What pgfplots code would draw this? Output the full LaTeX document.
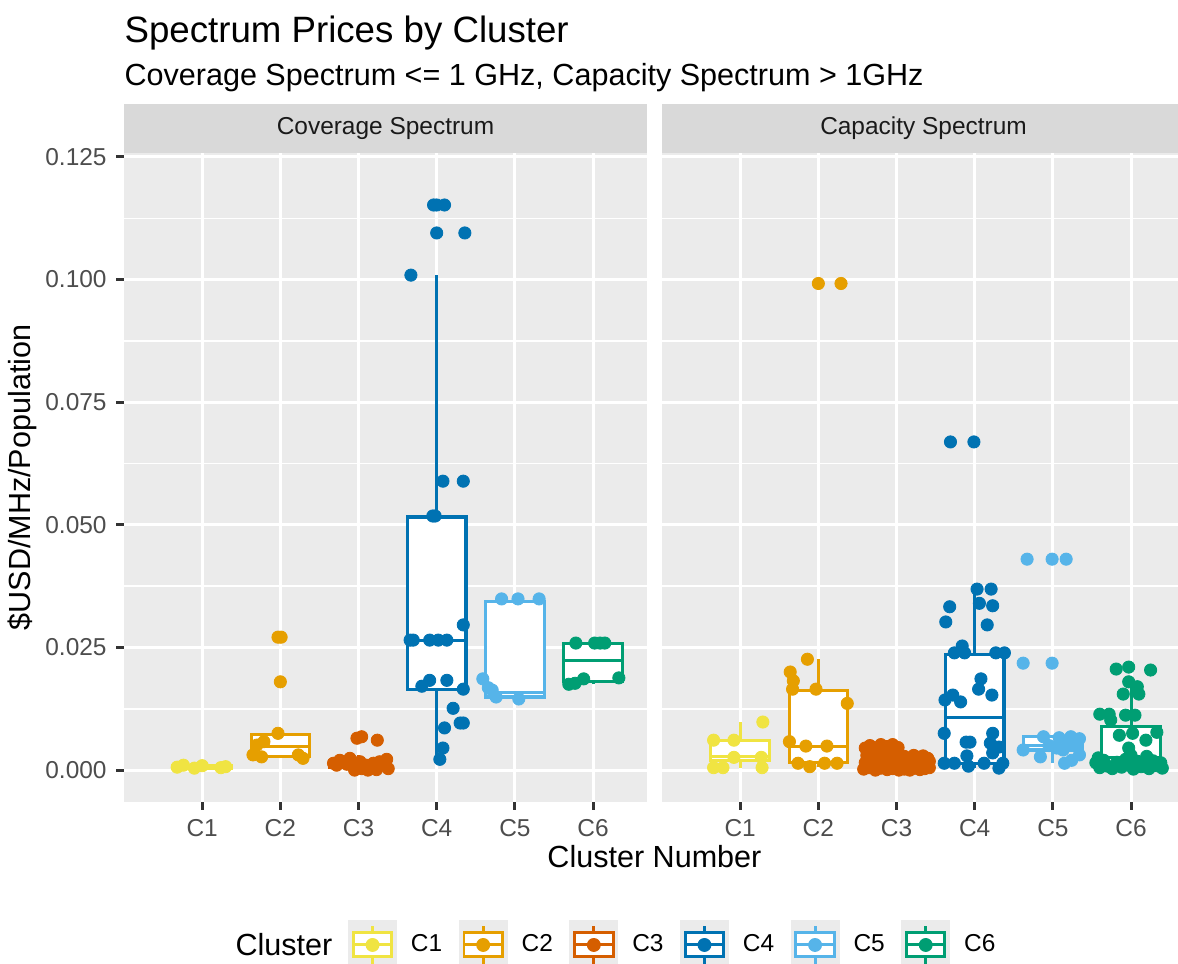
\documentclass[border=0pt]{standalone}
\usepackage{fontspec}
\setmainfont{Liberation Sans}
\usepackage{pgfplots}
\pgfplotsset{compat=1.18}

\definecolor{cA}{HTML}{F0E442}
\definecolor{cB}{HTML}{E69F00}
\definecolor{cC}{HTML}{D55E00}
\definecolor{cD}{HTML}{0072B2}
\definecolor{cE}{HTML}{56B4E9}
\definecolor{cF}{HTML}{009E73}
\definecolor{panelbg}{HTML}{EBEBEB}
\definecolor{stripbg}{HTML}{D9D9D9}
\definecolor{gtext}{HTML}{4D4D4D}
\definecolor{gtick}{HTML}{333333}
\definecolor{gstrip}{HTML}{1A1A1A}

\pgfplotsset{
  panel/.style={
    scale only axis, width=188.28pt, height=233.64pt,
    xmin=0, xmax=6.69, ymin=-0.0065, ymax=0.1258,
    axis background/.style={fill=panelbg},
    axis line style={draw=none},
    xtick={1,2,3,4,5,6}, xticklabels={C1,C2,C3,C4,C5,C6},
    ytick={0,0.025,0.05,0.075,0.1,0.125},
    minor ytick={0.0125,0.0375,0.0625,0.0875,0.1125},
    xmajorgrids, ymajorgrids, yminorgrids,
    major grid style={white, line width=1.07pt},
    minor grid style={white, line width=0.53pt},
    tick align=outside, major tick length=2.75pt, minor tick length=0pt,
    tick style={gtick, line width=1.07pt},
    xtick pos=bottom,
    scaled y ticks=false,
    tick label style={font=\fontsize{8.8}{10}\selectfont, text=gtext},
    yticklabel style={/pgf/number format/.cd, fixed, fixed zerofill, precision=3, assume math mode=true},
  },
  clkey/.style={legend image code/.code={
    \fill[panelbg] (0pt,-8.64pt) rectangle (17.28pt,8.64pt);
    \draw[#1, line width=1.07pt] (8.64pt,-6.9pt) -- (8.64pt,-4.32pt) (8.64pt,4.32pt) -- (8.64pt,6.9pt);
    \draw[#1, line width=1.07pt, fill=white] (1.73pt,-4.32pt) rectangle (15.55pt,4.32pt);
    \draw[#1, line width=1.07pt] (1.73pt,0pt) -- (15.55pt,0pt);
    \fill[#1] (8.64pt,0pt) circle (2.3pt);
  }},
  pts/.style={forget plot, only marks, mark=*, mark size=2.2pt, color=#1, mark options={line width=0.3pt}},
  bxl/.style={forget plot, draw=#1, line width=1.1pt, mark=none},
}

% #1 colour, #2 left, #3 centre, #4 right, #5 lower whisker, #6 Q1, #7 median, #8 Q3, #9 upper whisker
\newcommand{\bx}[9]{%
  \addplot[bxl=#1] coordinates {(#3,#5) (#3,#6)};
  \addplot[bxl=#1] coordinates {(#3,#8) (#3,#9)};
  \addplot[bxl=#1, fill=white] coordinates {(#2,#6) (#4,#6) (#4,#8) (#2,#8)} -- cycle;
  \addplot[bxl=#1] coordinates {(#2,#7) (#4,#7)};
}

\begin{document}
\begin{tikzpicture}
\useasboundingbox (0,0) rectangle (424.08pt,-347.04pt);

% titles
\node[anchor=base west, inner sep=0pt, font=\fontsize{13.2}{15}\selectfont] at (44.64pt,-15.48pt) {Spectrum Prices by Cluster};
\node[anchor=base west, inner sep=0pt, font=\fontsize{11}{13}\selectfont] at (44.64pt,-30.96pt) {Coverage Spectrum <= 1 GHz, Capacity Spectrum > 1GHz};

% strips
\fill[stripbg] (44.64pt,-37.44pt) rectangle (232.92pt,-55.08pt);
\fill[stripbg] (238.32pt,-37.44pt) rectangle (426.6pt,-55.08pt);
\node[font=\fontsize{8.8}{10}\selectfont, text=gstrip, inner sep=0pt] at (138.78pt,-46.26pt) {Coverage Spectrum};
\node[font=\fontsize{8.8}{10}\selectfont, text=gstrip, inner sep=0pt] at (332.46pt,-46.26pt) {Capacity Spectrum};

% axis titles
\node[rotate=90, font=\fontsize{11}{13}\selectfont, inner sep=0pt] at (8.1pt,-171.9pt) {\$USD/MHz/Population};
\node[font=\fontsize{11}{13}\selectfont, inner sep=0pt] at (235.6pt,-308.5pt) {Cluster Number};
\node[anchor=west, font=\fontsize{11}{13}\selectfont, inner sep=0pt] at (84.6pt,-340.2pt) {Cluster};

% ---------------- Coverage panel ----------------
\begin{axis}[panel, at={(44.64pt,-288.72pt)}, anchor=south west, ytick pos=left,
  legend columns=6,
  legend style={at={(0.4283,-0.2203)}, anchor=west, draw=none, fill=none, inner sep=0pt, outer sep=0pt,
    font=\fontsize{8.8}{10}\selectfont, nodes={inner sep=0pt, text=black},
    /tikz/every odd column/.append style={column sep=5pt},
    /tikz/every even column/.append style={column sep=5.9pt}},
]
\bx{cA}{0.625}{1}{1.375}{0.0002}{0.0004}{0.0006}{0.0009}{0.0012}
\bx{cB}{1.625}{2}{2.375}{0.0024}{0.0027}{0.0049}{0.0073}{0.0075}
\bx{cC}{2.625}{3}{3.375}{0.0000}{0.0006}{0.0011}{0.0019}{0.0030}
\bx{cD}{3.625}{4}{4.375}{0.0022}{0.0165}{0.0265}{0.0516}{0.1009}
\bx{cE}{4.625}{5}{5.375}{0.0145}{0.0149}{0.0159}{0.0343}{0.0349}
\bx{cF}{5.625}{6}{6.375}{0.0175}{0.0181}{0.0224}{0.0259}{0.0259}

\addplot[pts=cA] coordinates {(0.68,0.0006) (0.76,0.0010) (0.90,0.0004) (1.00,0.0009) (1.24,0.0005) (1.30,0.0007)};
\addplot[pts=cB] coordinates {(1.97,0.0271) (2.01,0.0271) (2.00,0.0180) (1.97,0.0075) (1.79,0.0058) (1.70,0.0051) (1.65,0.0031) (1.76,0.0027) (2.23,0.0031) (2.29,0.0024)};
\addplot[pts=cC] coordinates {(2.98,0.0065) (3.04,0.0068) (3.24,0.0061) (2.68,0.0014) (2.76,0.0020) (2.85,0.0012) (2.93,0.0007) (2.95,0.0000) (3.02,0.0017) (3.10,0.0010) (3.12,0.0000) (3.19,0.0014) (3.27,0.0017) (3.36,0.0022) (3.38,0.0003) (2.89,0.0024) (3.04,0.0003) (2.72,0.0010) (3.23,0.0001) (3.34,0.0010)};
\addplot[pts=cD] coordinates {(3.96,0.1152) (4.00,0.1152) (4.10,0.1152) (4.00,0.1095) (4.36,0.1095) (3.67,0.1009) (4.08,0.0589) (4.34,0.0589) (3.95,0.0518) (3.98,0.0518) (4.34,0.0296) (3.66,0.0265) (3.70,0.0265) (3.91,0.0265) (4.02,0.0265) (4.13,0.0265) (3.91,0.0183) (4.13,0.0183) (3.81,0.0171) (4.34,0.0165) (4.21,0.0126) (4.34,0.0096) (4.30,0.0096) (4.10,0.0086) (4.08,0.0045) (4.04,0.0022)};
\addplot[pts=cE] coordinates {(4.83,0.0349) (5.04,0.0349) (5.31,0.0349) (4.59,0.0186) (4.71,0.0163) (4.76,0.0149) (5.05,0.0145) (4.66,0.0168)};
\addplot[pts=cF] coordinates {(5.78,0.0259) (6.02,0.0259) (6.09,0.0259) (6.15,0.0259) (5.69,0.0175) (5.77,0.0177) (5.88,0.0186) (6.33,0.0188)};

\addlegendimage{clkey=cA}
\addlegendimage{clkey=cB}
\addlegendimage{clkey=cC}
\addlegendimage{clkey=cD}
\addlegendimage{clkey=cE}
\addlegendimage{clkey=cF}
\legend{C1,C2,C3,C4,C5,C6}
\end{axis}

% ---------------- Capacity panel ----------------
\begin{axis}[panel, at={(238.32pt,-288.72pt)}, anchor=south west, ytick pos=right, yticklabels={}]
\bx{cA}{0.625}{1}{1.375}{0.0004}{0.0020}{0.0027}{0.0061}{0.0098}
\bx{cB}{1.625}{2}{2.375}{0.0006}{0.0015}{0.0049}{0.0163}{0.0226}
\bx{cC}{2.625}{3}{3.375}{0.0000}{0.0003}{0.0010}{0.0028}{0.0052}
\bx{cD}{3.625}{4}{4.375}{0.0004}{0.0014}{0.0108}{0.0235}{0.0369}
\bx{cE}{4.625}{5}{5.375}{0.0014}{0.0041}{0.0050}{0.0068}{0.0072}
\bx{cF}{5.625}{6}{6.375}{0.0002}{0.0014}{0.0025}{0.0088}{0.0190}

\addplot[pts=cA] coordinates {(0.66,0.0061) (0.92,0.0061) (1.29,0.0098) (0.92,0.0026) (1.27,0.0026) (0.66,0.0005) (0.78,0.0005) (1.28,0.0005)};
\addplot[pts=cB] coordinates {(2.00,0.0992) (2.29,0.0992) (1.86,0.0226) (1.64,0.0200) (1.68,0.0182) (1.67,0.0165) (1.97,0.0165) (2.37,0.0136) (1.63,0.0058) (1.84,0.0049) (2.11,0.0049) (1.74,0.0014) (1.89,0.0007) (2.08,0.0014) (2.24,0.0014)};
\addplot[pts=cC] coordinates {(2.60,0.0045) (2.66,0.0050) (2.72,0.0042) (2.80,0.0052) (2.88,0.0048) (2.95,0.0052) (3.02,0.0046) (2.62,0.0030) (2.70,0.0033) (2.78,0.0028) (2.86,0.0036) (2.93,0.0030) (3.00,0.0035) (2.60,0.0015) (2.68,0.0018) (2.75,0.0012) (2.83,0.0020) (2.90,0.0010) (2.98,0.0016) (3.05,0.0022) (2.58,0.0002) (2.65,0.0005) (2.73,0.0000) (2.80,0.0004) (2.88,0.0001) (2.95,0.0003) (3.03,0.0000) (3.10,0.0028) (3.16,0.0024) (3.22,0.0030) (3.28,0.0026) (3.34,0.0029) (3.40,0.0024) (3.12,0.0012) (3.18,0.0016) (3.25,0.0010) (3.31,0.0015) (3.38,0.0012) (3.42,0.0018) (3.10,0.0002) (3.17,0.0000) (3.24,0.0004) (3.30,0.0001) (3.36,0.0003) (3.42,0.0005) (2.63,0.0008) (2.77,0.0007) (2.92,0.0006) (3.08,0.0007) (3.21,0.0007) (3.35,0.0008)};
\addplot[pts=cD] coordinates {(3.69,0.0669) (3.99,0.0669) (4.03,0.0369) (4.21,0.0369) (3.68,0.0333) (4.06,0.0340) (4.23,0.0335) (3.63,0.0302) (4.16,0.0296) (3.84,0.0253) (3.74,0.0239) (3.87,0.0239) (4.27,0.0239) (4.38,0.0239) (4.08,0.0186) (4.05,0.0165) (4.22,0.0153) (3.62,0.0143) (3.72,0.0153) (3.82,0.0139) (3.61,0.0075) (3.89,0.0057) (3.94,0.0057) (4.23,0.0075) (4.20,0.0055) (4.31,0.0047) (4.23,0.0035) (3.90,0.0029) (3.61,0.0014) (3.74,0.0014) (3.92,0.0008) (4.12,0.0014) (4.31,0.0004) (4.36,0.0014)};
\addplot[pts=cE] coordinates {(4.67,0.0430) (4.99,0.0430) (5.17,0.0430) (4.62,0.0218) (4.99,0.0218) (4.88,0.0068) (5.08,0.0066) (5.23,0.0068) (5.34,0.0064) (4.62,0.0041) (4.84,0.0027) (5.15,0.0014) (5.13,0.0041) (5.31,0.0053) (5.34,0.0031) (5.24,0.0020) (5.19,0.0051) (5.05,0.0045) (4.95,0.0050)};
\addplot[pts=cF] coordinates {(5.81,0.0206) (5.97,0.0210) (6.25,0.0204) (5.97,0.0180) (6.08,0.0170) (5.90,0.0155) (6.10,0.0155) (5.60,0.0114) (5.72,0.0114) (5.74,0.0102) (5.93,0.0112) (6.05,0.0112) (5.85,0.0071) (6.02,0.0075) (6.19,0.0061) (6.33,0.0077) (5.97,0.0045) (5.55,0.0015) (5.60,0.0005) (5.65,0.0020) (5.70,0.0008) (5.76,0.0003) (5.82,0.0016) (5.88,0.0006) (5.93,0.0022) (5.98,0.0010) (6.03,0.0002) (6.08,0.0018) (6.13,0.0007) (6.18,0.0013) (6.23,0.0003) (6.28,0.0019) (6.33,0.0009) (6.38,0.0015) (6.40,0.0004) (6.00,0.0030) (6.20,0.0028) (5.58,0.0025)};
\end{axis}
\end{tikzpicture}
\end{document}
